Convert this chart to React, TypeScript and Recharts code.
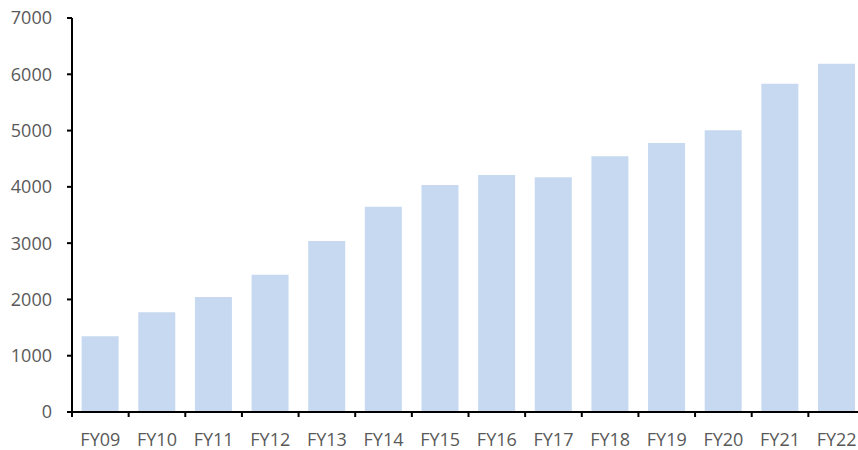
import { BarChart, Bar, XAxis, YAxis } from "recharts";

const years = ["FY09", "FY10", "FY11", "FY12", "FY13", "FY14", "FY15", "FY16", "FY17", "FY18", "FY19", "FY20", "FY21", "FY22"];
const values = [1347, 1774, 2045, 2438, 3037, 3648, 4035, 4212, 4171, 4544, 4781, 5007, 5831, 6187];
const yTicks = [0, 1000, 2000, 3000, 4000, 5000, 6000, 7000];

const chartData = years.map((fy, i) => ({ fy, value: values[i] }));

const tickStyle = { fill: "#595959", fontSize: 18, fontFamily: "'Open Sans', sans-serif" };

const CHART_W = 880;
const LEFT = 72;
const RIGHT = 15;
const band = (CHART_W - LEFT - RIGHT) / years.length;

// ticks sit between categories, like Excel
const CategoryTick = (props: any) => {
  const { x, y, payload, index } = props;
  const axisY = y - 21;
  const half = band / 2;
  return (
    <g>
      <line x1={x - half} x2={x - half} y1={axisY} y2={axisY + 5} stroke="#000" strokeWidth={2} />
      {index === years.length - 1 && (
        <line x1={x + half} x2={x + half} y1={axisY} y2={axisY + 5} stroke="#000" strokeWidth={2} />
      )}
      <text x={x} y={y} dy="0.71em" textAnchor="middle" {...tickStyle}>
        {payload.value}
      </text>
    </g>
  );
};

export default function App() {
  return (
    <div style={{ position: "absolute", left: 0, top: 0, width: 858, height: 450, overflow: "hidden", background: "#fff" }}>
      <BarChart
        width={CHART_W}
        height={450}
        data={chartData}
        barCategoryGap="17%"
        margin={{ top: 18, right: RIGHT, left: 0, bottom: 0 }}
      >
        <XAxis
          dataKey="fy"
          axisLine={{ stroke: "#000", strokeWidth: 2 }}
          tickLine={false}
          tickSize={5}
          tickMargin={16}
          tick={<CategoryTick />}
          interval={0}
          height={38}
        />
        <YAxis
          domain={[0, 7000]}
          ticks={yTicks}
          axisLine={{ stroke: "#000", strokeWidth: 2 }}
          tickLine={{ stroke: "#000", strokeWidth: 2 }}
          tickSize={5}
          tickMargin={15}
          tick={tickStyle}
          width={LEFT}
          interval={0}
        />
        <Bar dataKey="value" fill="#C6D9F1" isAnimationActive={false} />
      </BarChart>
    </div>
  );
}
